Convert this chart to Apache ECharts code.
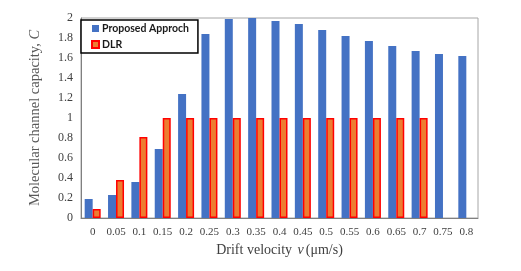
<!DOCTYPE html>
<html><head><meta charset="utf-8">
<script src="https://cdn.jsdelivr.net/npm/echarts@6/dist/echarts.min.js"></script>
<style>html,body{margin:0;padding:0;background:#fff}#c{width:521px;height:271px}</style>
</head><body><div id="c"></div>
<script>
const categories = ['0','0.05','0.1','0.15','0.2','0.25','0.3','0.35','0.4','0.45','0.5','0.55','0.6','0.65','0.7','0.75','0.8'];
const proposed = [0.19,0.23,0.36,0.69,1.24,1.84,1.99,2.0,1.97,1.94,1.88,1.82,1.77,1.72,1.67,1.64,1.62];
const dlr = [0.09,0.38,0.81,1.0,1.0,1.0,1.0,1.0,1.0,1.0,1.0,1.0,1.0,1.0,1.0,null,null];
const yTicks = {min:0, max:2, interval:0.2};

const chart = echarts.init(document.getElementById('c'), null, {renderer:'canvas'});
const serif = 'Liberation Serif';
chart.setOption({
  animation:false,
  grid:{left:81, top:18, width:397, height:200, show:true, borderColor:'#a6a6a6', borderWidth:1},
  legend:{
    orient:'vertical', left:81, top:20, itemWidth:7, itemHeight:7, itemGap:5, icon:'rect',
    borderColor:'#000', borderWidth:1.5, padding:[3,9,3,10], backgroundColor:'#fff',
    textStyle:{fontFamily:'Lato', fontWeight:'bold', fontSize:10.5, color:'#1a1a1a', padding:[0,0,0,-2]},
    data:['Proposed Approch','DLR']
  },
  xAxis:{
    type:'category', data:categories,
    axisLine:{lineStyle:{color:'#808080', width:1}}, axisTick:{show:false},
    axisLabel:{interval:0, fontFamily:serif, fontSize:11, color:'#404040', margin:9},
    name:'{a|Drift velocity }{b|v}{a|(μm/s)}', nameLocation:'middle', nameGap:24,
    nameTextStyle:{rich:{a:{fontFamily:serif, fontSize:14, color:'#404040'}, b:{fontFamily:serif, fontSize:14, fontStyle:'italic', color:'#404040', padding:[0,2,0,2]}}}
  },
  yAxis:{
    type:'value', min:yTicks.min, max:yTicks.max, interval:yTicks.interval,
    splitLine:{show:false},
    axisLine:{show:true, lineStyle:{color:'#808080', width:1}}, axisTick:{show:false},
    axisLabel:{fontFamily:serif, fontSize:12, color:'#404040', margin:8, formatter:v=>String(+v.toFixed(1))},
    name:'{a|Molecular channel capacity, }{b|C}', nameLocation:'middle', nameGap:38,
    nameTextStyle:{rich:{a:{fontFamily:serif, fontSize:14.5, color:'#595959'}, b:{fontFamily:serif, fontSize:14.5, fontStyle:'italic', color:'#595959'}}}
  },
  series:[
    {name:'Proposed Approch', type:'bar', data:proposed, barWidth:8, barGap:'0%', itemStyle:{color:'#4472C4'}},
    {name:'DLR', type:'bar', data:dlr, barWidth:8, itemStyle:{color:'#ED7D31', borderColor:'#FF0000', borderWidth:1.5}}
  ]
});
</script></body></html>
